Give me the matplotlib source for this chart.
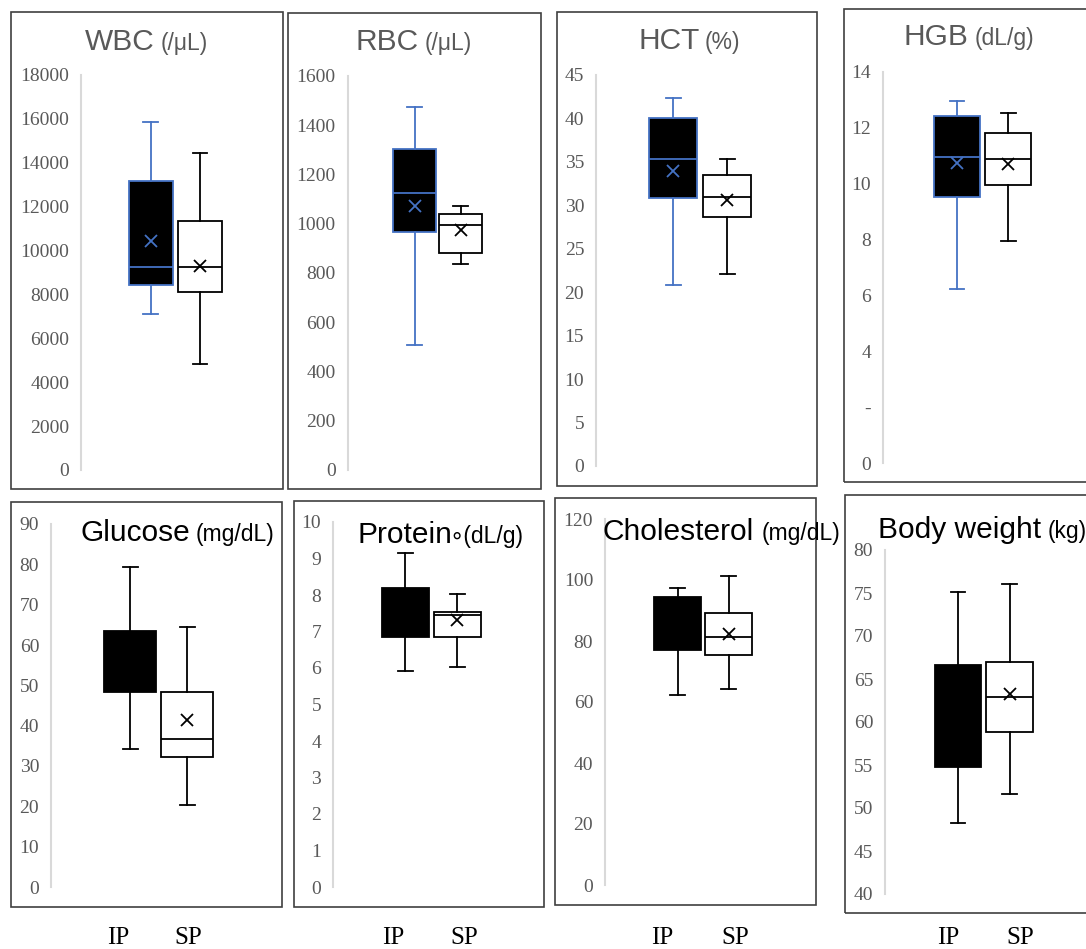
import matplotlib
matplotlib.use('Agg')
import matplotlib.pyplot as plt
from matplotlib.patches import Rectangle

plt.rcParams['font.family'] = ['Liberation Serif', 'DejaVu Serif']

# box stats: [whislo, q1, med, q3, whishi]
groups = ['IP', 'SP']

wbc_ip = [7100, 8450, 9250, 13150, 15850]
wbc_sp = [4850, 8100, 9250, 11350, 14450]
wbc_mean = [10450, 9300]

rbc_ip = [508, 968, 1124, 1304, 1473]
rbc_sp = [837, 880, 996, 1041, 1071]
rbc_mean = [1073, 973]

hct_ip = [20.8, 30.8, 35.3, 40.1, 42.4]
hct_sp = [22.1, 28.6, 31.0, 33.5, 35.3]
hct_mean = [33.9, 30.6]

hgb_ip = [6.24, 9.53, 10.95, 12.44, 12.96]
hgb_sp = [7.94, 9.94, 10.89, 11.80, 12.54]
hgb_mean = [10.75, 10.70]

glu_ip = [34.3, 48.3, 56.0, 63.4, 79.4]
glu_sp = [20.3, 32.3, 36.8, 48.3, 64.5]
glu_mean = [56.0, 41.4]

pro_ip = [5.93, 6.86, 7.5, 8.18, 9.14]
pro_sp = [6.04, 6.84, 7.44, 7.53, 8.03]
pro_mean = [7.5, 7.31]

chol_ip = [62.3, 77.0, 85.0, 94.3, 97.3]
chol_sp = [64.3, 75.5, 81.3, 89.3, 101.3]
chol_mean = [85.0, 82.3]

bw_ip = [48.25, 54.8, 60.0, 66.6, 75.1]
bw_sp = [51.65, 58.8, 62.9, 67.0, 76.1]
bw_mean = [60.0, 63.2]

titles = ['WBC', 'RBC', 'HCT', 'HGB', 'Glucose', 'Protein', 'Cholesterol', 'Body weight']
units = ['(/μL)', '(/μL)', '(%)', '(dL/g)', '(mg/dL)', '∘(dL/g)', '(mg/dL)', '(kg)']
yticks = [list(range(0, 18001, 2000)), list(range(0, 1601, 200)), list(range(0, 46, 5)),
          list(range(0, 15, 2)), list(range(0, 91, 10)), list(range(0, 11)),
          list(range(0, 121, 20)), list(range(40, 81, 5))]
data = [(wbc_ip, wbc_sp, wbc_mean), (rbc_ip, rbc_sp, rbc_mean), (hct_ip, hct_sp, hct_mean),
        (hgb_ip, hgb_sp, hgb_mean), (glu_ip, glu_sp, glu_mean), (pro_ip, pro_sp, pro_mean),
        (chol_ip, chol_sp, chol_mean), (bw_ip, bw_sp, bw_mean)]

# layout in pixels: border (l, t, r, b), axis x, y of min, y of max, box centres, box width,
# title start x, unit start x, title baseline
layout = [
    dict(border=(11, 12, 283, 489), ax=81, y0=470, y1=75, c=(150.5, 200), w=44, tx=85, ux=161, ty=50, top=True),
    dict(border=(288, 13, 541, 489), ax=347.5, y0=470, y1=76, c=(414.5, 460.5), w=43, tx=356, ux=425, ty=50, top=True),
    dict(border=(557, 12, 817, 486), ax=596, y0=466, y1=75, c=(673, 727), w=48, tx=638, ux=705, ty=49, top=True),
    dict(border=(844, 9, 1100, 482), ax=883, y0=463, y1=72, c=(957, 1008.5), w=46, tx=904, ux=975, ty=45, top=True),
    dict(border=(11, 502, 282, 907), ax=51, y0=887, y1=524, c=(130, 187), w=52, tx=81, ux=196, ty=541, top=False),
    dict(border=(294, 501, 544, 907), ax=333, y0=887, y1=522, c=(405, 457), w=47, tx=358, ux=449, ty=543, top=False),
    dict(border=(555, 498, 816, 905), ax=605, y0=885, y1=519, c=(677.5, 728.7), w=47, tx=603, ux=762, ty=540, top=False),
    dict(border=(845, 495, 1100, 913), ax=885, y0=894, y1=550, c=(958, 1010), w=47, tx=878, ux=1048, ty=538, top=False),
]
xlabel_pos = [(118, 188), (393, 464), (662, 735), (948, 1020)]

W, H = 1086, 949
fig = plt.figure(figsize=(W / 100, H / 100), dpi=100)
fig.patch.set_facecolor('white')

blue = '#4472C4'
gray = '#595959'
sans = ['Liberation Sans', 'DejaVu Sans']

for i, lay in enumerate(layout):
    l, t, r, b = lay['border']
    fig.add_artist(Rectangle((l / W, 1 - b / H), (r - l) / W, (b - t) / H, transform=fig.transFigure,
                             fill=False, ec='#3f3f3f', lw=1.2))
    ax = fig.add_axes([lay['ax'] / W, 1 - lay['y0'] / H, (r - lay['ax']) / W, (lay['y0'] - lay['y1']) / H])
    ax.patch.set_alpha(0)
    c1, c2 = lay['c']
    s = c2 - c1
    ax.set_xlim(1 + (lay['ax'] - c1) / s, 1 + (r - c1) / s)
    ip, sp, means = data[i]
    stats = []
    for g, vals, m in zip(groups, (ip, sp), means):
        stats.append(dict(label=g, whislo=vals[0], q1=vals[1], med=vals[2], q3=vals[3],
                          whishi=vals[4], mean=m, fliers=[]))
    ipc = blue if lay['top'] else 'black'
    bp = ax.bxp(stats, positions=[1, 2], widths=lay['w'] / s, showmeans=True, patch_artist=True,
                capwidths=15 / s, manage_ticks=False)
    for k, col in enumerate([ipc, 'black']):
        bp['boxes'][k].set_facecolor('black' if k == 0 else 'white')
        bp['boxes'][k].set_edgecolor(col)
        bp['boxes'][k].set_linewidth(1.3)
        bp['medians'][k].set_color(col)
        bp['medians'][k].set_linewidth(1.3)
        for ln in bp['whiskers'][2 * k:2 * k + 2] + bp['caps'][2 * k:2 * k + 2]:
            ln.set_color(col)
            ln.set_linewidth(1.3)
        bp['means'][k].set_marker('x')
        bp['means'][k].set_markeredgecolor(col)
        bp['means'][k].set_markersize(8)
        bp['means'][k].set_markeredgewidth(1.3)
    tk = yticks[i]
    ax.set_ylim(tk[0], tk[-1])
    ax.set_yticks(tk)
    if i == 3:
        ax.set_yticklabels(['-' if v == 2 else str(v) for v in tk])
    ax.set_xticks([])
    ax.tick_params(axis='y', length=0, pad=8.5, labelsize=14, labelcolor=gray)
    for sp_name in ['top', 'right', 'bottom']:
        ax.spines[sp_name].set_visible(False)
    ax.spines['left'].set_color('#d9d9d9')
    ax.spines['left'].set_linewidth(1.5)

    tcol = gray if lay['top'] else 'black'
    fig.text(lay['tx'] / W, 1 - lay['ty'] / H, titles[i], ha='left', va='baseline',
             fontsize=21.5, color=tcol, family=sans)
    fig.text(lay['ux'] / W, 1 - lay['ty'] / H, units[i], ha='left', va='baseline',
             fontsize=16.5, color=tcol, family=sans)

for xi, xs in xlabel_pos:
    fig.text(xi / W, 1 - 938 / H, groups[0], ha='center', va='center', fontsize=18, color='black')
    fig.text(xs / W, 1 - 938 / H, groups[1], ha='center', va='center', fontsize=18, color='black')

fig.savefig('out.png', dpi=100)
